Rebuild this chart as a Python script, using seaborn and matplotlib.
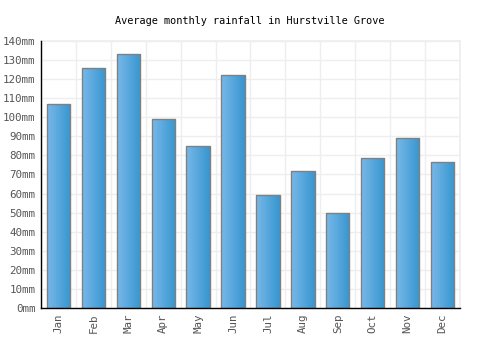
import numpy as np
import pandas as pd
import matplotlib
matplotlib.use("Agg")
import matplotlib.pyplot as plt
import seaborn as sns
from matplotlib.colors import LinearSegmentedColormap

months = ["Jan", "Feb", "Mar", "Apr", "May", "Jun", "Jul", "Aug", "Sep", "Oct", "Nov", "Dec"]
rainfall = [107, 126, 133, 99, 85, 122, 59, 72, 50, 78.5, 89, 76.5]
yticks = list(range(0, 141, 10))
ytick_labels = [f"{v}mm" for v in yticks]
title = "Average monthly rainfall in Hurstville Grove"

sns.set_theme(style="white")
plt.rcParams['font.family'] = ['DejaVu Sans Mono', 'DejaVu Sans']

df = pd.DataFrame({"month": months, "rain": rainfall})

fig = plt.figure(figsize=(5, 3.5), dpi=100)
ax = fig.add_axes([0.082, 0.12, 0.838, 0.763])

sns.barplot(data=df, x="month", y="rain", ax=ax, width=0.67,
            color="#4ea3dc", edgecolor="#808080", linewidth=1, saturation=1, zorder=3)

cmap = LinearSegmentedColormap.from_list("g", ["#78b8ea", "#3796cf"])
grad = np.linspace(0, 1, 64).reshape(1, -1)
for p in ax.patches:
    x0, y0 = p.get_x(), p.get_y()
    w, h = p.get_width(), p.get_height()
    im = ax.imshow(grad, cmap=cmap, aspect="auto", extent=[x0, x0 + w, y0, y0 + h],
                   zorder=3.5, interpolation="bicubic")
    im.set_clip_path(p)
    p.set_facecolor("none")
    p.set_zorder(4)

ax.set_xlim(-0.5, len(months) - 0.5)
ax.set_ylim(0, 140)
ax.set_yticks(yticks)
ax.set_yticklabels(ytick_labels)
ax.set_xticks(range(len(months)))
ax.set_xticklabels(months, rotation=90)
ax.set_xticks(np.arange(-0.5, len(months), 1), minor=True)
ax.grid(True, which="minor", axis="x", color="#eeeeee", linewidth=1, zorder=0)
ax.grid(True, which="major", axis="y", color="#eeeeee", linewidth=1, zorder=0)
ax.tick_params(axis="both", which="both", length=0, labelsize=7.8, labelcolor="#555555", pad=4)
ax.set_xlabel("")
ax.set_ylabel("")
for s in ["top", "right"]:
    ax.spines[s].set_color("#eeeeee")
for s in ["left", "bottom"]:
    ax.spines[s].set_color("black")
    ax.spines[s].set_linewidth(1)
    ax.spines[s].set_zorder(5)

fig.suptitle(title, y=0.955, fontsize=7.4, color="black")
fig.savefig("out.png", dpi=100)
